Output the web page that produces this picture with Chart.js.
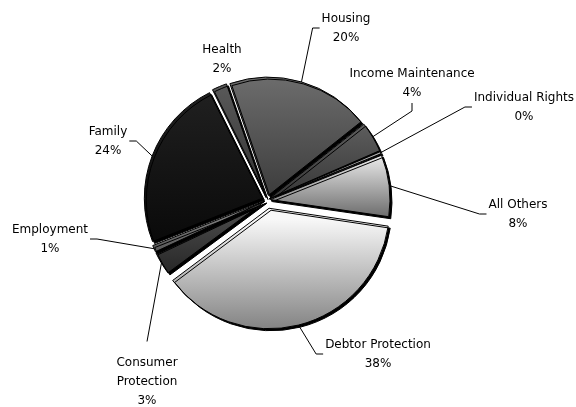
<!DOCTYPE html>
<html lang="en">
<head>
  <meta charset="UTF-8">
  <title>Case types</title>
  <script src="https://cdn.jsdelivr.net/npm/chart.js"></script>
  <style>
    html, body { margin: 0; padding: 0; background: #fff; }
    #box { position: relative; width: 576px; height: 407px; }
  </style>
</head>
<body>
  <div id="box"><canvas id="myChart"></canvas></div>

<script>
  // data, clockwise from Housing
  const categories = ['Housing', 'Income Maintenance', 'Individual Rights', 'All Others', 'Debtor Protection', 'Consumer Protection', 'Employment', 'Family', 'Health'];
  const shares = [19.6, 4.2, 0.4, 8.4, 37.5, 3.2, 1.0, 23.6, 2.1];

  // look of each slice (top / bottom of its gradient) and how far it is pulled out
  const lightShades = ['#6e6e6e', '#5e5e5e', '#b0b0b0', '#ececec', '#f8f8f8', '#505050', '#8a8a8a', '#202020', '#5a5a5a'];
  const darkShades = ['#3e3e3e', '#383838', '#808080', '#6c6c6c', '#7a7a7a', '#262626', '#555555', '#0a0a0a', '#333333'];
  const explode = [5, 5, 5, 5, 11, 5, 5, 5, 5];

  // label placement: block centre relative to the pie centre, and where the leader joins
  const labelOffsets = [[79, -172], [145, -117], [257, -93], [251, 14], [111, 154], [-120, 182], [-217, 39], [-159, -59], [-45, -141]];
  const leaderSide = ['left', 'bottom', 'left', 'left', 'left', 'top', 'right', 'right', 'none'];

  const total = shares.reduce((a, b) => a + b, 0);
  const FONT = '12px "DejaVu Sans"';
  const LINE = 19;

  function labelLines(i) {
    const pct = Math.round(shares[i] / total * 100) + '%';
    if (categories[i] === 'Consumer Protection') return ['Consumer', 'Protection', pct];
    return [categories[i], pct];
  }

  const slicePlugin = {
    id: 'slices',
    beforeDatasetsDraw(chart) {
      const ctx = chart.ctx;
      const arcs = chart.getDatasetMeta(0).data;
      arcs.forEach((arc, i) => {
        const mid = (arc.startAngle + arc.endAngle) / 2;
        const cx = arc.x + Math.cos(mid) * explode[i];
        const cy = arc.y + Math.sin(mid) * explode[i];
        let top = cy, bot = cy;
        for (let k = 0; k <= 40; k++) {
          const a = arc.startAngle + (arc.endAngle - arc.startAngle) * k / 40;
          const y = cy + Math.sin(a) * arc.outerRadius;
          top = Math.min(top, y);
          bot = Math.max(bot, y);
        }
        const g = ctx.createLinearGradient(0, top, 0, bot + 1);
        g.addColorStop(0, lightShades[i]);
        g.addColorStop(1, darkShades[i]);
        arc.options.backgroundColor = g;
      });
      ctx.save();
      ctx.shadowColor = '#000';
      ctx.shadowOffsetX = 2;
      ctx.shadowOffsetY = 2;
      ctx.shadowBlur = 0;
    },
    afterDatasetsDraw(chart) {
      const ctx = chart.ctx;
      ctx.restore();
      const arcs = chart.getDatasetMeta(0).data;
      ctx.save();
      ctx.font = FONT;
      ctx.fillStyle = '#000';
      ctx.strokeStyle = '#000';
      ctx.lineWidth = 1;
      ctx.textAlign = 'center';
      ctx.textBaseline = 'middle';
      arcs.forEach((arc, i) => {
        const lines = labelLines(i);
        const bx = arc.x + labelOffsets[i][0];
        const by = arc.y + labelOffsets[i][1];
        const w = Math.max(...lines.map(t => ctx.measureText(t).width));
        const h = lines.length * LINE;
        lines.forEach((t, k) => ctx.fillText(t, bx, by - h / 2 + LINE / 2 + k * LINE));

        const side = leaderSide[i];
        if (side === 'none') return;
        const mid = (arc.startAngle + arc.endAngle) / 2;
        const r = arc.outerRadius + explode[i];
        const sx = arc.x + Math.cos(mid) * r;
        const sy = arc.y + Math.sin(mid) * r;
        let ex, ey, tx, ty;
        if (side === 'left') { tx = bx - w / 2 - 2; ty = by; ex = tx - 7; ey = ty; }
        if (side === 'right') { tx = bx + w / 2 + 2; ty = by; ex = tx + 7; ey = ty; }
        if (side === 'bottom') { tx = bx; ty = by + h / 2 + 1; ex = tx; ey = ty + 8; }
        if (side === 'top') { tx = bx; ty = by - h / 2 - 12; ex = tx; ey = ty; }
        ctx.beginPath();
        ctx.moveTo(sx, sy);
        ctx.lineTo(ex, ey);
        ctx.lineTo(tx, ty);
        ctx.stroke();
      });
      ctx.restore();
    }
  };

  const ctx = document.getElementById('myChart');

  new Chart(ctx, {
    type: 'pie',
    data: {
      labels: categories,
      datasets: [{
        data: shares,
        backgroundColor: lightShades,
        borderColor: '#000',
        borderWidth: 1,
        // chart.js moves a slice by offset/4 * (1 + fix), so undo that to get the wanted pull-out
        offset: c => {
          const circ = shares[c.dataIndex] / total * 2 * Math.PI;
          const fix = 1 - Math.sin(Math.min(Math.PI, circ));
          return 4 * explode[c.dataIndex] / (1 + fix);
        }
      }]
    },
    options: {
      responsive: true,
      maintainAspectRatio: false,
      animation: false,
      rotation: -19,
      radius: 118,
      layout: { padding: { left: 0, right: 42, top: 0, bottom: 7 } },
      plugins: {
        legend: { display: false },
        tooltip: { enabled: false }
      },
      events: []
    },
    plugins: [slicePlugin]
  });
</script>
</body>
</html>
